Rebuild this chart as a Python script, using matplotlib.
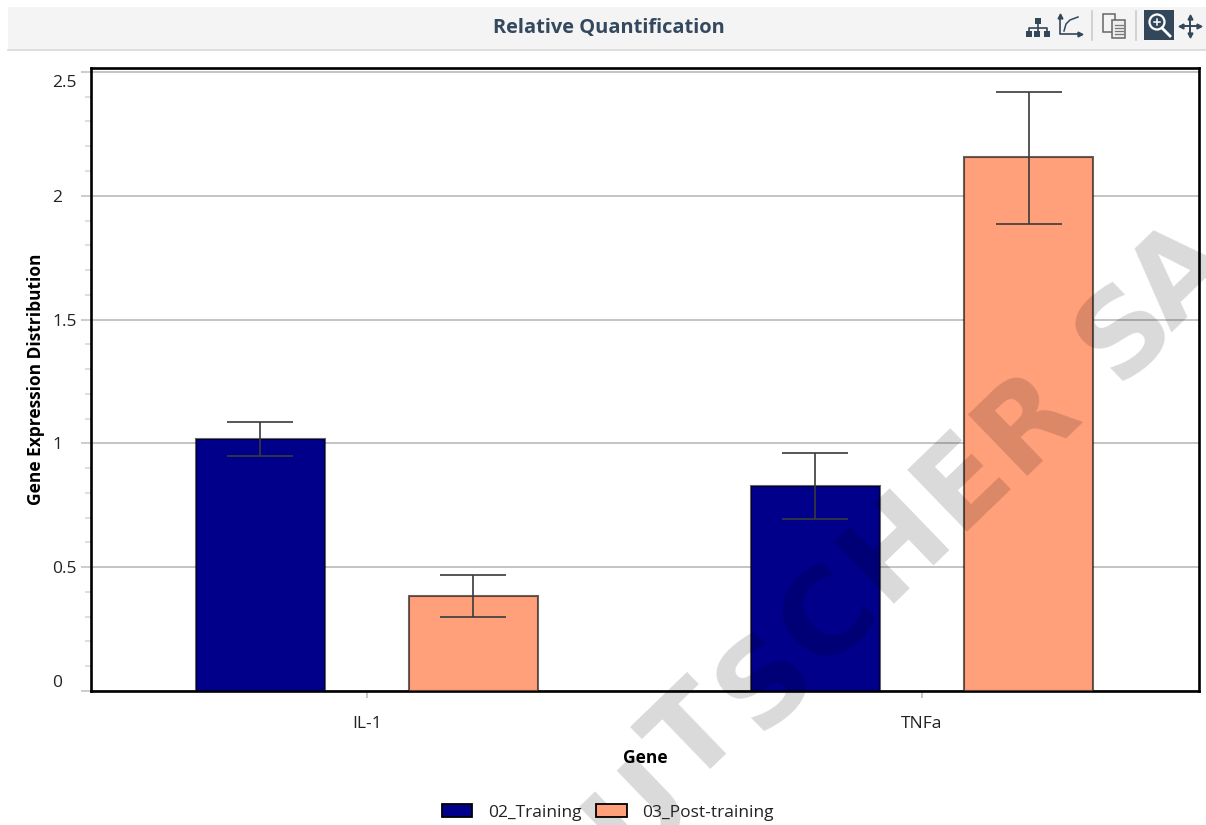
import matplotlib
matplotlib.use('Agg')
import matplotlib.pyplot as plt
from matplotlib.patches import Rectangle, Circle
from matplotlib.transforms import ScaledTranslation

genes = ['IL-1', 'TNFa']
training = [1.018, 0.828]
post_training = [0.385, 2.158]
training_low = [0.95, 0.695]
training_high = [1.085, 0.96]
post_low = [0.30, 1.885]
post_high = [0.468, 2.42]
y_ticks = [0, 0.5, 1, 1.5, 2, 2.5]
y_labels = ['0', '0.5', '1', '1.5', '2', '2.5']

# visible part of the watermark, letter and centre in pixels
wm_letters = ['U', 'T', 'S', 'C', 'H', 'E', 'R', 'S', 'A']
wm_x = [640, 696, 766, 828, 896, 963, 1027, 1125, 1182]
wm_y = [812, 738, 682, 618, 546, 481, 421, 332, 278]

plt.rcParams['font.family'] = ['Open Sans', 'DejaVu Sans']

W, H = 1206, 825
fig = plt.figure(figsize=(W / 100, H / 100), dpi=100, facecolor='white')
ax = fig.add_axes([91 / W, 1 - 691 / H, 1108 / W, 623 / H])

offset = 0.192
width = 0.232
x = range(len(genes))
edge = (0, 0, 0, 0.6)
ax.bar([i - offset for i in x], training, width, color='#00008b', edgecolor=edge, linewidth=1.5, zorder=3, label='02_Training')
ax.bar([i + offset for i in x], post_training, width, color='#ffa07a', edgecolor=edge, linewidth=1.5, zorder=3, label='03_Post-training')

# error bars go from low to high, not symmetric around the bar
for i in x:
    for xpos, val, lo, hi in [(i - offset, training[i], training_low[i], training_high[i]),
                              (i + offset, post_training[i], post_low[i], post_high[i])]:
        ax.errorbar(xpos, val, yerr=[[val - lo], [hi - val]], color='#3a3a3a', elinewidth=1.2,
                    capsize=24, capthick=1.2, zorder=4)

ax.set_xlim(-0.497, 1.499)
ax.set_ylim(0, 2.516)
ax.set_xticks(list(x))
ax.set_xticklabels(genes, fontsize=12.5, color='#222222')
ax.set_yticks(y_ticks)
ax.set_yticklabels(y_labels, fontsize=12.5, color='#222222', ha='left')
ax.set_yticks([v / 10 for v in range(1, 25) if v % 5], minor=True)
ax.grid(axis='y', color='#c4c4c4', linewidth=1.4, zorder=0)
ax.set_axisbelow(True)
ax.tick_params(axis='y', which='major', length=7.2, width=1.2, color='#c4c4c4', pad=20.9)
ax.tick_params(axis='y', which='minor', length=4.3, width=1.2, color='#d8d8d8')
ax.tick_params(axis='x', length=5, width=1.1, color='#b8b8b8', pad=12.7)
for s in ax.spines.values():
    s.set_linewidth(1.9)
    s.set_color('black')
# first and last labels sit inside the axis range
ylabs = ax.get_yticklabels()
ylabs[0].set_verticalalignment('bottom')
ylabs[-1].set_verticalalignment('top')
ylabs[-1].set_transform(ylabs[-1].get_transform() + ScaledTranslation(0, -3 / 100, fig.dpi_scale_trans))

fig.text(36 / W, 1 - 379 / H, 'Gene Expression Distribution', rotation=90, fontsize=12.5,
         fontweight='bold', ha='center', va='center', color='black')
fig.text(645 / W, 1 - 758 / H, 'Gene', fontsize=12.5, fontweight='bold', ha='center', va='center', color='black')

leg = fig.legend(loc='center', bbox_to_anchor=(608 / W, 1 - 812.5 / H), ncol=2, frameon=False, fontsize=12.5,
                 handlelength=1.75, handleheight=0.8, columnspacing=0.85, handletextpad=0.9, labelcolor='#222222')
for h in leg.get_patches():
    h.set_edgecolor('black')
    h.set_linewidth(1.3)

# toolbar strip and watermark go on an overlay in pixel coordinates
over = fig.add_axes([0, 0, 1, 1], facecolor='none')
over.set_xlim(0, W)
over.set_ylim(H, 0)
over.axis('off')
over.add_patch(Rectangle((8, 7), 1198, 42, color='#f4f4f4', lw=0))
over.plot([8, 1206], [49.5, 49.5], color='#d8d8d8', lw=1.2)
over.text(608.5, 28, 'Relative Quantification', fontsize=14.4, fontweight='bold', color='#34495e', ha='center', va='center')

ic = '#33475b'
# hierarchy icon
for bx in [1026, 1034, 1044]:
    over.add_patch(Rectangle((bx, 31), 6, 6, color=ic, lw=0))
over.add_patch(Rectangle((1035, 18), 6, 6, color=ic, lw=0))
over.plot([1038, 1038], [24, 31], color=ic, lw=1.2)
over.plot([1029, 1029, 1047, 1047], [31, 27.5, 27.5, 31], color=ic, lw=1.2)
# axes icon
over.plot([1060, 1060, 1079], [17, 34, 34], color=ic, lw=1.2)
over.plot([1060], [16], marker='^', ms=3.5, color=ic)
over.plot([1080], [34], marker='>', ms=3.5, color=ic)
over.plot([1064, 1066, 1070, 1078], [31, 24, 20, 17], color=ic, lw=1.1)
over.plot([1091.5, 1091.5], [11, 40], color='#cccccc', lw=1.2)
# copy icon
over.add_patch(Rectangle((1103, 14), 12, 18, fc='#f4f4f4', ec='#666666', lw=1.1))
over.add_patch(Rectangle((1112, 20), 13, 18, fc='#eeeeee', ec='#666666', lw=1.1))
for ly in [25, 28, 31, 34]:
    over.plot([1114.5, 1122.5], [ly, ly], color='#777777', lw=0.9)
over.plot([1136, 1136], [11, 40], color='#cccccc', lw=1.2)
# zoom icon
over.add_patch(Rectangle((1144, 10), 30, 30, color=ic, lw=0))
over.add_patch(Circle((1157, 22), 7.5, fc='none', ec='white', lw=1.6))
over.plot([1162, 1170], [28, 36], color='white', lw=2)
over.plot([1154, 1160], [22, 22], color='white', lw=1.1)
over.plot([1157, 1157], [19, 25], color='white', lw=1.1)
# move icon
over.plot([1182, 1198], [26, 26], color=ic, lw=1.4)
over.plot([1190, 1190], [18, 34], color=ic, lw=1.4)
over.plot([1181], [26], marker='<', ms=3.5, color=ic)
over.plot([1199], [26], marker='>', ms=3.5, color=ic)
over.plot([1190], [17], marker='^', ms=3.5, color=ic)
over.plot([1190], [35], marker='v', ms=3.5, color=ic)

for ch, wx, wy in zip(wm_letters, wm_x, wm_y):
    over.text(wx, wy, ch, fontsize=85, fontweight='bold', family='DejaVu Sans', color='black', alpha=0.15,
              rotation=44, rotation_mode='anchor', ha='center', va='center', clip_on=True)

fig.savefig('out.png', dpi=100)
